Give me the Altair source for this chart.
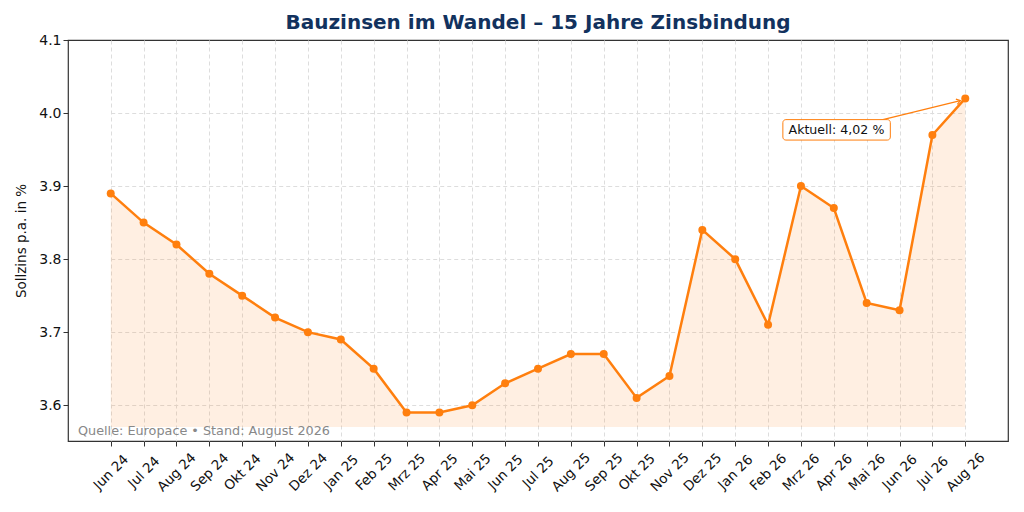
import altair as alt
import pandas as pd

MONATE = [
    "Jun 24", "Jul 24", "Aug 24", "Sep 24", "Okt 24", "Nov 24", "Dez 24",
    "Jan 25", "Feb 25", "Mrz 25", "Apr 25", "Mai 25", "Jun 25", "Jul 25",
    "Aug 25", "Sep 25", "Okt 25", "Nov 25", "Dez 25", "Jan 26", "Feb 26",
    "Mrz 26", "Apr 26", "Mai 26", "Jun 26", "Jul 26", "Aug 26",
]
ZINSEN = [
    3.89, 3.85, 3.82, 3.78, 3.75, 3.72, 3.70, 3.69, 3.65, 3.59, 3.59, 3.60,
    3.63, 3.65, 3.67, 3.67, 3.61, 3.64, 3.84, 3.80, 3.71, 3.90, 3.87, 3.74,
    3.73, 3.97, 4.02,
]
Y_TICKS = [3.6, 3.7, 3.8, 3.9, 4.0, 4.1]
BASIS = 3.57

ORANGE = "#ff7f0e"
NAVY = "#12325e"
FONT = "DejaVu Sans"

BREITE = 940
HOEHE = 401
RAND = 1.3  # Randabstand in Monaten links und rechts

df = pd.DataFrame({"monat": MONATE, "zins": ZINSEN})
df["basis"] = BASIS

n = len(MONATE)
rand_px = BREITE * RAND / (n - 1 + 2 * RAND)

y_scale = alt.Scale(domain=[3.551, 4.1], nice=False, zero=False)

x_enc = alt.X(
    "monat:O", sort=MONATE,
    scale=alt.Scale(type="point", padding=0, range=[rand_px, BREITE - rand_px]),
    title=None,
    axis=alt.Axis(
        labelAngle=-45, labelAlign="center", labelBaseline="middle", labelFontSize=13.5,
        labelOverlap=False, grid=True, gridDash=[4, 3], gridColor="#dddddd",
        tickColor="#333333", tickSize=5, domain=False, labelColor="#111111",
        labelPadding=26, labelFont=FONT,
    ),
)
y_enc = alt.Y(
    "zins:Q", scale=y_scale, title="Sollzins p.a. in %",
    axis=alt.Axis(
        values=Y_TICKS, format=".1f", labelFontSize=14, titleFontSize=13.5,
        titleFontWeight="normal", grid=True, gridDash=[4, 3],
        gridColor={"condition": {"test": "datum.value > 4.05", "value": "transparent"},
                   "value": "#dddddd"},
        tickColor="#333333", tickSize=5, domain=False, labelColor="#111111",
        titleColor="#111111", labelFont=FONT, titleFont=FONT, titlePadding=10,
    ),
)

base = alt.Chart(df)

flaeche = base.mark_area(color=ORANGE, opacity=0.12).encode(
    x=x_enc, y=y_enc, y2="basis:Q"
)
linie = base.mark_line(color=ORANGE, strokeWidth=2.5).encode(x=x_enc, y=y_enc)
punkte = base.mark_circle(color=ORANGE, opacity=1, size=64).encode(x=x_enc, y=y_enc)

# Annotation "Aktuell" (eigene x-Skala in Monatsindex)
anno = pd.DataFrame({
    "x0": [20.45], "x1": [23.72], "y0": [3.963], "y1": [3.991],
    "tx": [22.08], "ty": [3.977],
    "ax": [23.4], "ay": [3.990], "bx": [25.85], "by": [4.017],
    "text": ["Aktuell: 4,02 %"],
})
idx_scale = alt.Scale(domain=[-RAND, n - 1 + RAND], nice=False, zero=False)
anno_base = alt.Chart(anno)
pfeil = anno_base.mark_rule(color=ORANGE, strokeWidth=1.2).encode(
    x=alt.X("ax:Q", scale=idx_scale, axis=None), y="ay:Q", x2="bx:Q", y2="by:Q"
)
spitze = anno_base.mark_point(
    shape="M-0.7,1L0,0L0.7,1", filled=False, color=ORANGE, strokeWidth=1.2,
    size=60, angle=74, opacity=1,
).encode(x=alt.X("bx:Q", scale=idx_scale, axis=None), y="by:Q")
box = anno_base.mark_rect(
    fill="white", stroke=ORANGE, strokeWidth=1, cornerRadius=3
).encode(x=alt.X("x0:Q", scale=idx_scale, axis=None), x2="x1:Q", y="y0:Q", y2="y1:Q")
box_text = anno_base.mark_text(
    fontSize=12.6, font=FONT, color="#111111", align="center", baseline="middle"
).encode(x=alt.X("tx:Q", scale=idx_scale, axis=None), y="ty:Q", text="text:N")
anno_layer = alt.layer(pfeil, spitze, box, box_text)

quelle = alt.Chart(pd.DataFrame({"t": ["Quelle: Europace • Stand: August 2026"]})).mark_text(
    fontSize=12.8, font=FONT, color="#888888", align="left", baseline="bottom"
).encode(x=alt.value(10), y=alt.value(398), text="t:N")

chart = alt.layer(
    alt.layer(flaeche, linie, punkte), anno_layer, quelle
).resolve_scale(x="independent").properties(
    width=BREITE,
    height=HOEHE,
    autosize=alt.AutoSizeParams(type="none"),
    padding={"left": 60, "top": 32, "right": 8, "bottom": 63},
    title=alt.Title(
        "Bauzinsen im Wandel – 15 Jahre Zinsbindung",
        fontSize=20, fontWeight="bold", color=NAVY, font=FONT, offset=0,
    ),
).configure_view(stroke="#333333", strokeWidth=1.2)

chart.save("out.html", embed_options={"renderer": "svg", "actions": False})
